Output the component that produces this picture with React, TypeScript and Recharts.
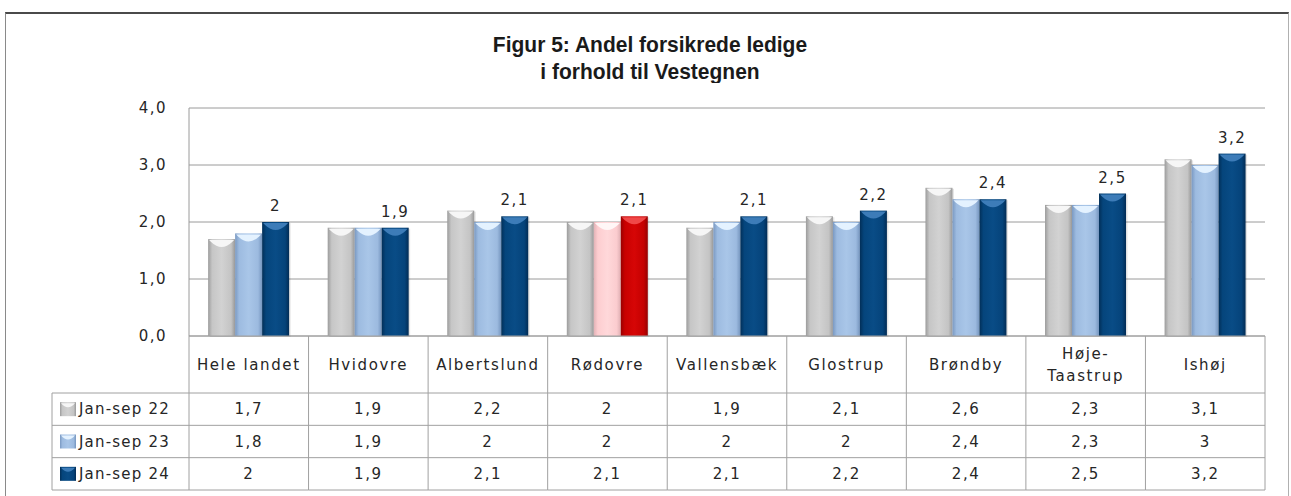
import React from 'react';
import { BarChart, Bar, XAxis, YAxis, CartesianGrid, LabelList } from 'recharts';

const categories = ['Hele landet', 'Hvidovre', 'Albertslund', 'Rødovre', 'Vallensbæk', 'Glostrup', 'Brøndby', 'Høje-Taastrup', 'Ishøj'];
const seriesNames = ['Jan-sep 22', 'Jan-sep 23', 'Jan-sep 24'];
const jan22 = [1.7, 1.9, 2.2, 2, 1.9, 2.1, 2.6, 2.3, 3.1];
const jan23 = [1.8, 1.9, 2, 2, 2, 2, 2.4, 2.3, 3];
const jan24 = [2, 1.9, 2.1, 2.1, 2.1, 2.2, 2.4, 2.5, 3.2];
const yTicks = [0, 1, 2, 3, 4];
const highlight = 'Rødovre';

const data = categories.map((name, i) => ({ name, s22: jan22[i], s23: jan23[i], s24: jan24[i] }));
const rowsValues = [jan22, jan23, jan24];

// layout
const W = 1291;
const H = 496;
const PLOT_L = 189;
const PLOT_R = 1265;
const PLOT_T = 108;
const TABLE_H = 154;
const HEADER_H = 57;
const ROW_H = (TABLE_H - HEADER_H) / 3;
const CAT_W = (PLOT_R - PLOT_L) / categories.length;
const LEGEND_L = 52;
const LINE = '#a0a0a0';
const TXT = '#262626';
const FONT = '"DejaVu Sans", Verdana, sans-serif';

const fmt = (v: number) => String(v).replace('.', ',');

// horizontal gradients for the bevelled bars, plus the colour of the top cap
const palettes: Record<string, { id: string; stops: string[]; cap: string }> = {
  gray: { id: 'gGray', stops: ['#9c9c9c', '#c6c6c6', '#d2d2d2', '#c4c4c4', '#989898'], cap: '#f6f6f6' },
  light: { id: 'gLight', stops: ['#7a99c2', '#9dbbe0', '#a9c6e8', '#9cbadf', '#7595be'], cap: '#e4f2ff' },
  dark: { id: 'gDark', stops: ['#022f58', '#05457c', '#094c86', '#05437a', '#022c55'], cap: '#3d7cb8' },
  pink: { id: 'gPink', stops: ['#e2b2b6', '#fdcdd0', '#ffd8da', '#fbcccf', '#deaeb2'], cap: '#fff6f6' },
  red: { id: 'gRed', stops: ['#980000', '#c80000', '#d60606', '#c40000', '#940000'], cap: '#f04848' },
};

const seriesPalette = [
  (hl: boolean) => palettes.gray,
  (hl: boolean) => (hl ? palettes.pink : palettes.light),
  (hl: boolean) => (hl ? palettes.red : palettes.dark),
];

const makeBar = (s: number) => (props: any) => {
  const { x, y, width, height, index } = props;
  if (!height || height <= 0) return <g />;
  const p = seriesPalette[s](categories[index] === highlight);
  const cap = `M${x + 1},${y + 1} L${x + width - 1},${y + 1} L${x + width - 3},${y + 3} Q${x + width / 2},${y + 13} ${x + 3},${y + 3} Z`;
  return (
    <g>
      <rect x={x + 1.5} y={y + 1} width={width} height={height} fill="rgba(0,0,0,0.10)" />
      <rect x={x} y={y} width={width} height={height} fill={`url(#${p.id})`} />
      <path d={cap} fill={p.cap} />
    </g>
  );
};

const headerLines = (name: string) => {
  if (name.includes('-')) {
    const [a, b] = name.split('-');
    return [a + '-', b];
  }
  return [name];
};

// each x tick draws one column of the data table below the plot
const TableColumn = (props: any) => {
  const { x, y, payload } = props;
  const i = payload.index;
  const half = CAT_W / 2;
  const lines = headerLines(payload.value);
  const rowTop = (r: number) => y + HEADER_H + r * ROW_H;
  return (
    <g fontFamily={FONT} fontSize={15} fill={TXT} letterSpacing={1.6}>
      <line x1={x - half} x2={x - half} y1={y} y2={y + TABLE_H} stroke={LINE} />
      {i === categories.length - 1 && <line x1={x + half} x2={x + half} y1={y} y2={y + TABLE_H} stroke={LINE} />}
      {lines.map((l, k) => (
        <text key={k} x={x} y={y + HEADER_H / 2 + (k - (lines.length - 1) / 2) * 22} textAnchor="middle" dominantBaseline="central">
          {l}
        </text>
      ))}
      {[0, 1, 2, 3].map((r) => (
        <line key={r} x1={x - half} x2={x + half} y1={rowTop(r)} y2={rowTop(r)} stroke={LINE} />
      ))}
      {rowsValues.map((vals, r) => (
        <text key={r} x={x} y={rowTop(r) + ROW_H / 2} textAnchor="middle" dominantBaseline="central">
          {fmt(vals[i])}
        </text>
      ))}
      {i === 0 && (
        <g>
          <line x1={LEGEND_L} x2={LEGEND_L} y1={rowTop(0)} y2={rowTop(3)} stroke={LINE} />
          {[0, 1, 2, 3].map((r) => (
            <line key={r} x1={LEGEND_L} x2={x - half} y1={rowTop(r)} y2={rowTop(r)} stroke={LINE} />
          ))}
          {seriesNames.map((n, r) => {
            const p = seriesPalette[r](false);
            const cy = rowTop(r) + ROW_H / 2;
            return (
              <g key={n}>
                <rect x={LEGEND_L + 8} y={cy - 7} width={16} height={14} fill={`url(#${p.id})`} />
                <path d={`M${LEGEND_L + 9},${cy - 6} L${LEGEND_L + 23},${cy - 6} Q${LEGEND_L + 16},${cy + 2} ${LEGEND_L + 9},${cy - 6} Z`} fill={p.cap} />
                <text x={LEGEND_L + 27} y={cy} dominantBaseline="central" letterSpacing={1.2}>
                  {n}
                </text>
              </g>
            );
          })}
        </g>
      )}
    </g>
  );
};

export default function App() {
  return (
    <div style={{ position: 'absolute', left: 0, top: 0, width: W, height: H, background: '#fff', overflow: 'hidden' }}>
      <div
        style={{
          position: 'absolute',
          left: 5,
          top: 12,
          width: 1282,
          height: 500,
          borderTop: '2px solid #4a4a4a',
          borderLeft: '1px solid #8a8a8a',
          borderRight: '1px solid #b0b0b0',
        }}
      />
      <div
        style={{
          position: 'absolute',
          left: 0,
          width: 1300,
          top: 32,
          textAlign: 'center',
          fontFamily: '"Liberation Sans Narrow", "Liberation Sans", sans-serif',
          fontWeight: 'bold',
          fontSize: 21,
          lineHeight: '25px',
          color: '#1a1a1a',
          transform: 'scaleY(1.08)',
        }}
      >
        Figur 5: Andel forsikrede ledige
        <br />i forhold til Vestegnen
      </div>
      <div style={{ position: 'absolute', left: 0, top: 0 }}>
        <BarChart
          width={W}
          height={H}
          data={data}
          margin={{ top: PLOT_T, left: PLOT_L - 60, right: W - PLOT_R, bottom: H - PLOT_T - 228 - TABLE_H }}
          barCategoryGap="16%"
          barGap={0}
        >
          <defs>
            {Object.values(palettes).map((p) => (
              <linearGradient key={p.id} id={p.id} x1="0" y1="0" x2="1" y2="0">
                {p.stops.map((c, k) => (
                  <stop key={k} offset={[0, 0.15, 0.5, 0.85, 1][k]} stopColor={c} />
                ))}
              </linearGradient>
            ))}
          </defs>
          <CartesianGrid vertical={false} stroke="#9a9a9a" />
          <XAxis
            dataKey="name"
            height={TABLE_H}
            interval={0}
            tickLine={false}
            tickSize={0}
            tickMargin={0}
            axisLine={{ stroke: LINE }}
            tick={<TableColumn />}
          />
          <YAxis
            width={60}
            domain={[0, 4]}
            ticks={yTicks}
            tickFormatter={(v: number) => v.toFixed(1).replace('.', ',')}
            tickLine={false}
            tickSize={0}
            tickMargin={22}
            axisLine={{ stroke: '#9a9a9a' }}
            tick={{ fill: TXT, fontSize: 15, fontFamily: FONT, letterSpacing: 1.5 }}
          />
          <Bar dataKey="s22" name={seriesNames[0]} shape={makeBar(0)} isAnimationActive={false} />
          <Bar dataKey="s23" name={seriesNames[1]} shape={makeBar(1)} isAnimationActive={false} />
          <Bar dataKey="s24" name={seriesNames[2]} shape={makeBar(2)} isAnimationActive={false}>
            <LabelList
              dataKey="s24"
              position="top"
              offset={11}
              formatter={(v: any) => fmt(v)}
              style={{ fill: TXT, fontSize: 15, fontFamily: FONT, letterSpacing: 1.5 }}
            />
          </Bar>
        </BarChart>
      </div>
    </div>
  );
}
